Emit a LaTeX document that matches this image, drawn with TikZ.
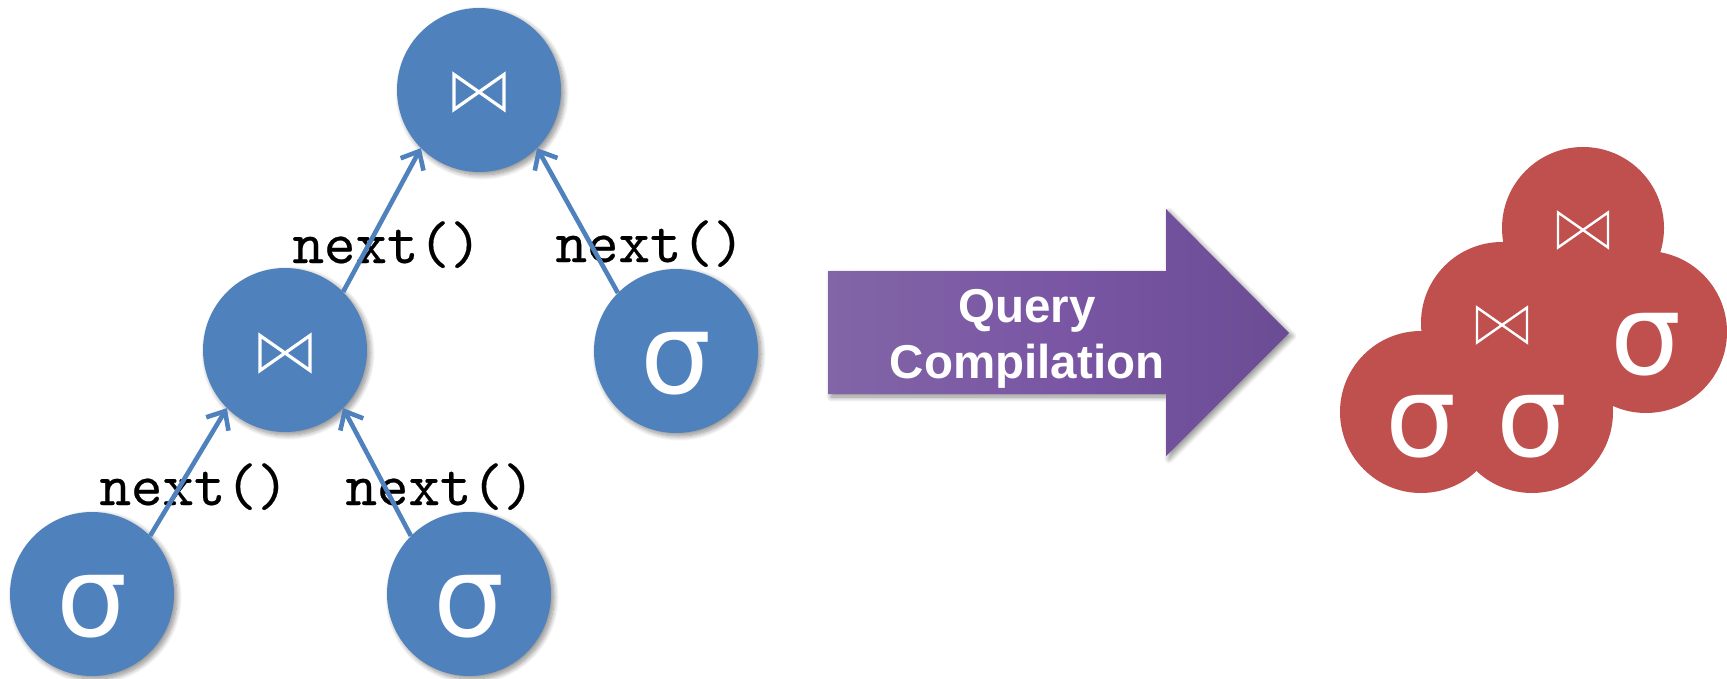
\documentclass[tikz,border=0pt]{standalone}
\usepackage{fontspec}
\setmainfont{Liberation Sans}
\newfontfamily\symfont{DejaVu Sans}
\newfontfamily\codefont{lmmono10-regular.otf}[FakeBold=0.4]
\usetikzlibrary{arrows.meta,shadows.blur}

\definecolor{opblue}{RGB}{79,129,189}
\definecolor{opred}{RGB}{192,80,77}
\definecolor{arrowL}{RGB}{129,101,166}
\definecolor{arrowM}{RGB}{122,86,164}
\definecolor{arrowR}{RGB}{106,76,148}

\begin{document}
\begin{tikzpicture}[x=1pt,y=-1pt,
  softshadow/.style={blur shadow={shadow xshift=3pt, shadow yshift=-3pt,
      shadow blur radius=5pt, shadow blur steps=12, shadow opacity=45}},
  opnode/.style={circle, fill=opblue, minimum size=164pt, inner sep=0pt, softshadow},
  fused/.style={circle, fill=opred, minimum size=162pt, inner sep=0pt},
  sigmatext/.style={text=white, inner sep=0pt, font=\symfont\fontsize{112}{112}\selectfont},
  calltext/.style={anchor=base, inner sep=0pt, font=\codefont\fontsize{60}{60}\selectfont},
  querytext/.style={anchor=base, inner sep=0pt, text=white,
      font=\bfseries\fontsize{47.5}{47.5}\selectfont},
  flow/.style={draw=opblue, line width=4.6pt, -{Straight Barb[length=15pt,width=26pt]}},
  joinmark/.pic={\draw[white, line width=#1, line join=miter]
      (-25,-17.5) -- (25,17.5) -- (25,-17.5) -- (-25,17.5) -- cycle;},
]
\useasboundingbox (0,0) rectangle (1727,679);

% operator tree (iterator model)
\node[opnode] (j1) at (479,90) {};
\node[opnode] (j2) at (285,350) {};
\node[opnode] (s3) at (676,351) {};
\node[opnode] (s1) at (92,594) {};
\node[opnode] (s2) at (469,594) {};

\pic at ([yshift=-2pt]j1.center) {joinmark=3.2pt};
\pic at ([yshift=-3pt]j2.center) {joinmark=3.2pt};
\node[sigmatext] (s1t) at ([yshift=-13pt]s1.center) {σ};
\node[sigmatext] (s2t) at ([yshift=-13pt]s2.center) {σ};
\node[sigmatext] (s3t) at ([yshift=-13pt]s3.center) {σ};

\node[calltext] (c1) at (194,505) {next()};
\node[calltext] (c2) at (440,505) {next()};
\node[calltext] (c3) at (387,263) {next()};
\node[calltext] (c4) at (650,262) {next()};

\draw[flow] (s1.45) -- (j2.225);
\draw[flow] (s2.135) -- (j2.315);
\draw[flow] (j2.45) -- (j1.225);
\draw[flow] (s3.135) -- (j1.315);

% compilation arrow
\path[softshadow, left color=arrowL, right color=arrowR, middle color=arrowM]
  (828,271) -- (1166,271) -- (1166,209) -- (1289,333) -- (1166,456)
  -- (1166,394) -- (828,394) -- cycle;
\node[querytext] (q1) at (1027,322) {Query};
\node[querytext] (q2) at (1027,378) {Compilation};

% fused pipeline
\node[fused] (r1) at (1583,228) {};
\node[fused] (r2) at (1502,323) {};
\node[fused] (r3) at (1646,332) {};
\node[fused] (r4) at (1421,412) {};
\node[fused] (r5) at (1532,412) {};

\pic at ([yshift=-2pt]r1.center) {joinmark=2.4pt};
\pic at ([yshift=-2pt]r2.center) {joinmark=2.4pt};
\node[sigmatext] (r3t) at ([yshift=-13pt]r3.center) {σ};
\node[sigmatext] (r4t) at ([yshift=-15pt]r4.center) {σ};
\node[sigmatext] (r5t) at ([yshift=-15pt]r5.center) {σ};
\end{tikzpicture}
\end{document}
